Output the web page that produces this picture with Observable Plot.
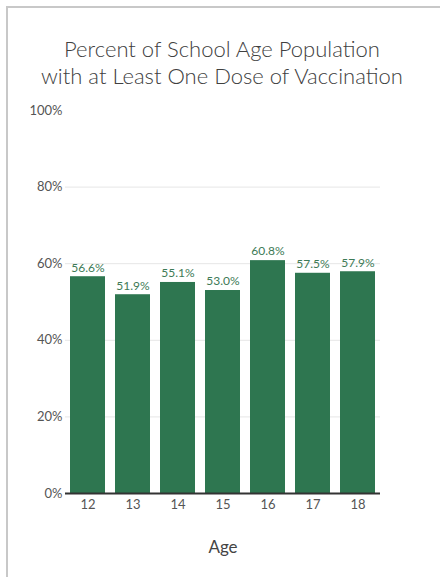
<!DOCTYPE html>
<html><head><meta charset="utf-8">
<script src="https://cdn.jsdelivr.net/npm/d3@7"></script>
<script src="https://cdn.jsdelivr.net/npm/@observablehq/plot@0.6"></script>
<style>
html,body{margin:0;padding:0;background:#fff;width:440px;height:577px;overflow:hidden;font-family:Lato,"Open Sans",sans-serif;}
#frame{position:absolute;left:6px;top:6px;width:440px;height:580px;border-left:2px solid #c8c8c8;border-top:2px solid #c8c8c8;}
#title{position:absolute;left:0;top:35px;width:444px;text-align:center;font-size:22px;line-height:27px;color:#404040;font-weight:300;}
#chart{position:absolute;left:0;top:90px;}
</style></head>
<body>
<div id="frame"></div>
<div id="title">Percent of School Age Population<br>with at Least One Dose of Vaccination</div>
<div id="chart"></div>
<script>
const ages = ["12","13","14","15","16","17","18"];
const values = [56.6, 51.9, 55.1, 53.0, 60.8, 57.5, 57.9];
const yTicks = [0, 20, 40, 60, 80, 100];
const xLabel = "Age";

const data = ages.map((a, i) => ({age: a, value: values[i]}));

const chart = Plot.plot({
  width: 440,
  height: 480,
  marginLeft: 65,
  marginRight: 60,
  marginTop: 20,
  marginBottom: 77,
  style: {fontFamily: "Lato, 'Open Sans', sans-serif", fontSize: "13px", color: "#555"},
  x: {domain: ages, paddingInner: 0.22, paddingOuter: 0.11, label: null},
  y: {domain: [0, 100], label: null},
  marks: [
    Plot.gridY(yTicks.filter(d => d > 0 && d < 100), {stroke: "#e6e6e6", strokeOpacity: 1}),
    Plot.axisY(yTicks, {tickSize: 0, tickPadding: 3, tickFormat: d => d + "%", fontSize: 13, fill: "#555"}),
    Plot.axisX({tickSize: 0, tickPadding: 6, fontSize: 13, fill: "#555", label: null}),
    Plot.barY(data, {x: "age", y: "value", fill: "#2e7650"}),
    Plot.text(data, {x: "age", y: "value", text: d => d.value.toFixed(1) + "%", dy: -9, fill: "#3d7a56", fontSize: 12}),
    Plot.ruleY([0], {stroke: "#333", strokeWidth: 2}),
    Plot.text([xLabel], {frameAnchor: "bottom", dy: 59, fontSize: 17, fill: "#444"})
  ]
});
document.getElementById("chart").appendChild(chart);
</script>
</body></html>
